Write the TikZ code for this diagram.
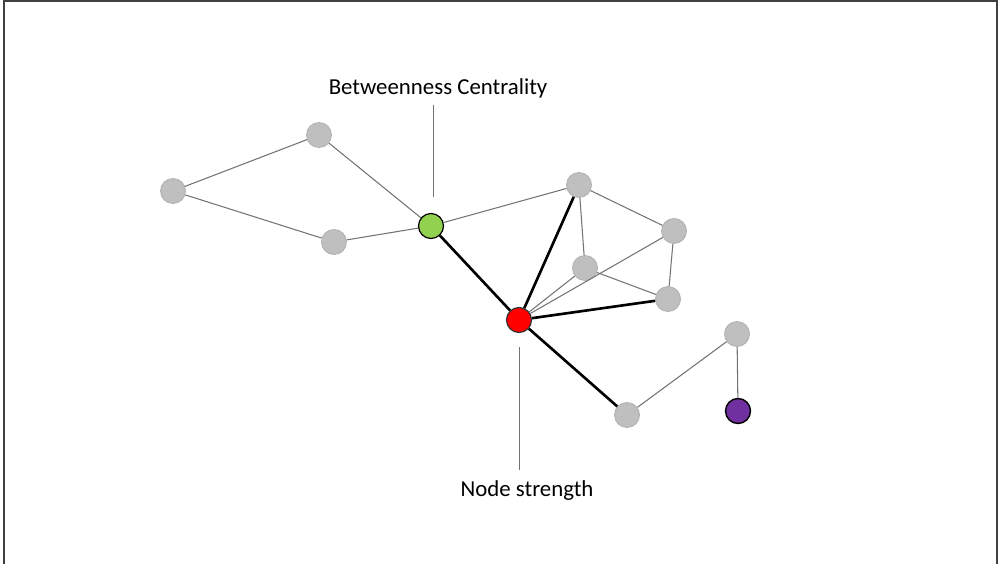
\documentclass[tikz,border=0pt]{standalone}
\usepackage{fontspec}
\setmainfont{Carlito}
\begin{document}
\begin{tikzpicture}[x=0.02cm,y=-0.02cm,
  vtx/.style={circle,inner sep=0pt,minimum size=0.5cm},
  grayv/.style={vtx,fill=gray!50!white,draw=gray!60,line width=0.5pt},
  greenv/.style={vtx,fill={rgb,255:red,146;green,208;blue,80},draw=black,line width=0.7pt},
  redv/.style={vtx,fill=red,draw=black!80,line width=0.7pt},
  purplev/.style={vtx,fill={rgb,255:red,112;green,48;blue,160},draw=black,line width=0.8pt},
  thinedge/.style={draw=gray!90!black,line width=0.6pt},
  thickedge/.style={draw=black,line width=1.5pt},
  pointer/.style={draw=gray!90!black,line width=0.5pt},
  lbl/.style={font=\fontsize{13}{15}\selectfont,inner sep=0pt}]
\useasboundingbox (0,0) rectangle (1000,564);
\draw[black!75,line width=0.9pt] (4,570) -- (4,1) -- (997,1) -- (997,570);

% vertices
\node[grayv] (A) at (319,135) {};
\node[grayv] (B) at (173,191) {};
\node[grayv] (C) at (334,242) {};
\node[greenv] (G) at (431,226) {};
\node[redv] (R) at (519,320) {};
\node[grayv] (D) at (579,185) {};
\node[grayv] (E) at (674,231) {};
\node[grayv] (F) at (585,268) {};
\node[grayv] (H) at (668,299) {};
\node[grayv] (I) at (627,415) {};
\node[grayv] (J) at (737,334) {};
\node[purplev] (P) at (738,411) {};

% light links
\draw[thinedge] (B) -- (A);
\draw[thinedge] (B) -- (C);
\draw[thinedge] (A) -- (G);
\draw[thinedge] (C) -- (G);
\draw[thinedge] (G) -- (D);
\draw[thinedge] (D) -- (E);
\draw[thinedge] (D) -- (F);
\draw[thinedge] (F) -- (H);
\draw[thinedge] (E) -- (H);
\draw[thinedge] (R) -- (F);
\draw[thinedge] (R) -- (E);
\draw[thinedge] (I) -- (J);
\draw[thinedge] (J) -- (P);

% strong links of the red vertex
\draw[thickedge] (G) -- (R);
\draw[thickedge] (R) -- (D);
\draw[thickedge] (R) -- (H);
\draw[thickedge] (R) -- (I);

% labels with pointers
\node[lbl] (bc) at (438,88) {Betweenness Centrality};
\node[lbl] (ns) at (527,491) {Node strength};
\coordinate (bcend) at (433,197);
\coordinate (bctop) at (433,105);
\coordinate (nstop) at (519,347);
\coordinate (nsend) at (519,470);
\draw[pointer] (bctop) -- (bcend);
\draw[pointer] (nstop) -- (nsend);
\end{tikzpicture}
\end{document}
